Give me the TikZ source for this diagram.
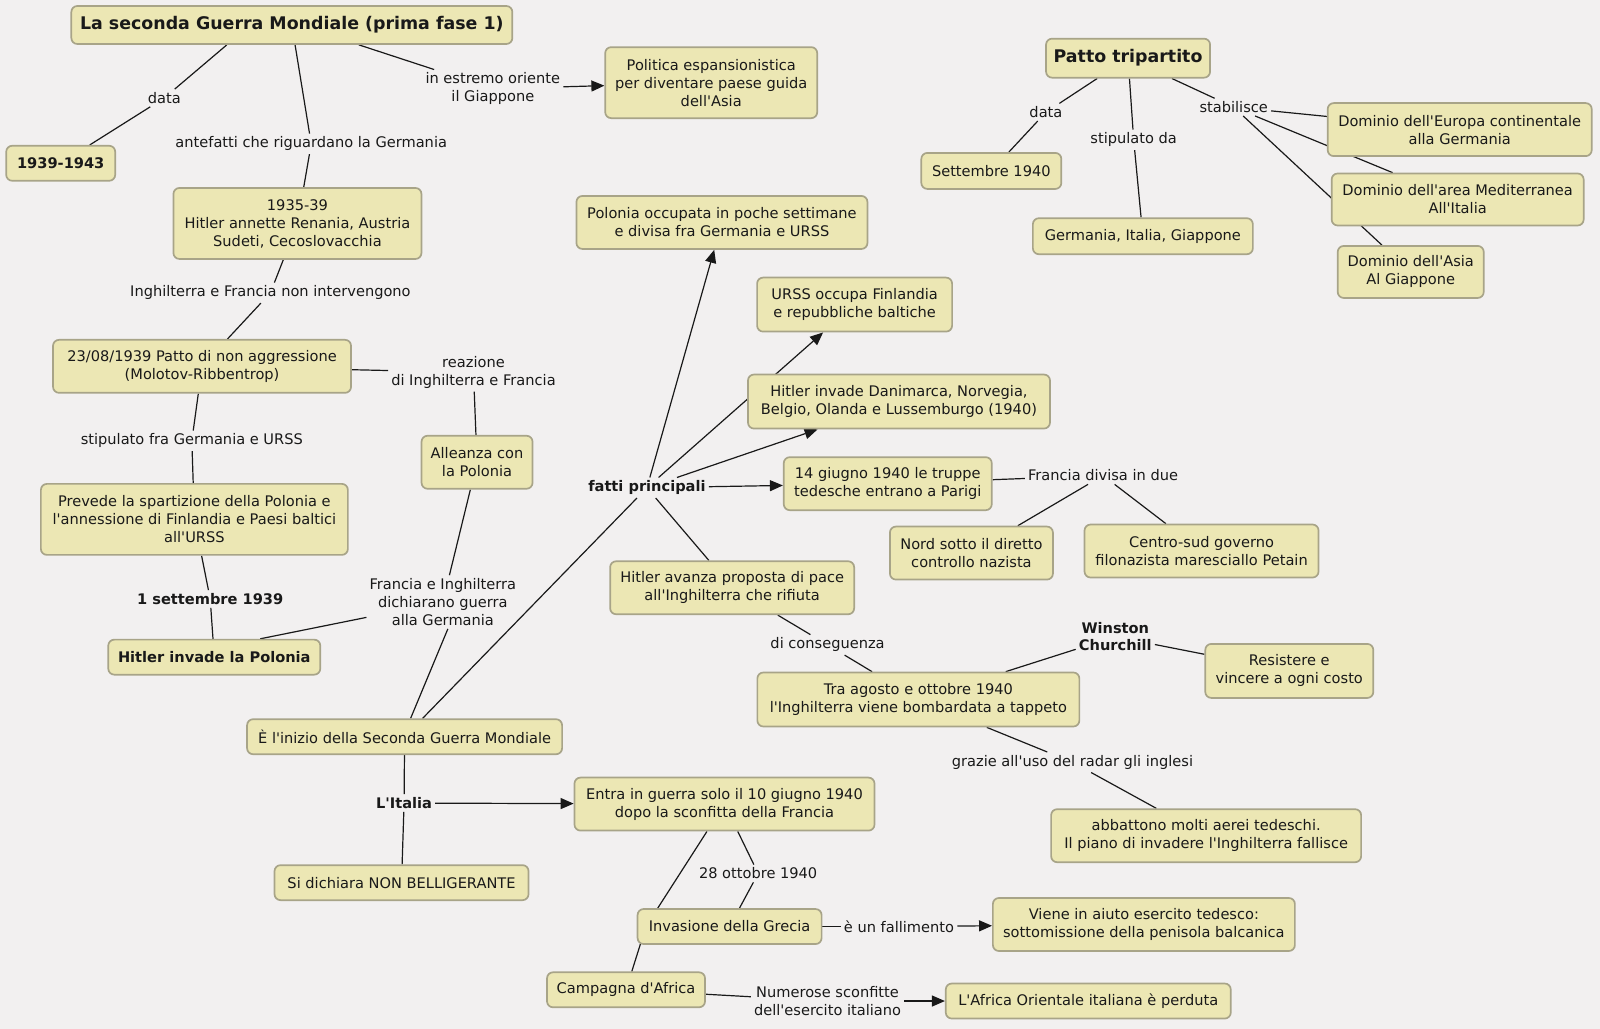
\documentclass[tikz,border=0pt]{standalone}
\usepackage{fontspec}
\setmainfont{DejaVu Sans}[Ligatures=TeXOff]
\usetikzlibrary{arrows.meta,backgrounds}
\definecolor{bgc}{RGB}{242,240,240}
\definecolor{boxfill}{RGB}{236,231,180}
\definecolor{boxline}{RGB}{168,164,136}
\definecolor{ink}{RGB}{25,25,25}
\begin{document}
\begin{tikzpicture}[x=1.0204pt, y=-1.0204pt,
  box/.style={draw=boxline, fill=boxfill, line width=1.7pt, rounded corners=6pt,
    align=center, inner sep=2pt, text=ink, font=\fontsize{14.6}{18}\selectfont},
  ttl/.style={box, font=\fontsize{17.4}{20}\selectfont\bfseries},
  sz/.style 2 args={minimum width=#1pt, minimum height=#2pt},
  lab/.style={align=center, inner sep=3pt, text=ink, font=\fontsize{14.6}{18}\selectfont},
  labb/.style={lab, font=\fontsize{14.6}{17}\selectfont\bfseries},
  con/.style={draw=ink, line width=1.2pt},
  arr/.style={con, -{Triangle[length=13pt,width=11pt]}}]
\useasboundingbox (0,0) rectangle (1568,1008);
\begin{scope}[on background layer]
  \fill[bgc] (0,0) rectangle (1568,1008);
\end{scope}

% concepts
\node[ttl,sz={441}{38}] (title) at (286,24.5) {La seconda Guerra Mondiale (prima fase 1)};
\node[box,sz={109}{35}] (yr) at (59.5,160) {\textbf{1939-1943}};
\node[box,sz={212}{71}] (polit) at (697,81) {Politica espansionistica\\per diventare paese guida\\dell'Asia};
\node[box,sz={248}{71}] (pre) at (291.5,219) {1935-39\\Hitler annette Renania, Austria\\Sudeti, Cecoslovacchia};
\node[box,sz={298}{53}] (mol) at (198,359) {23/08/1939 Patto di non aggressione\\(Molotov-Ribbentrop)};
\node[box,sz={111}{53}] (all) at (467.5,453) {Alleanza con\\la Polonia};
\node[box,sz={307}{71}] (prev) at (190.5,509) {Prevede la spartizione della Polonia e\\l'annessione di Finlandia e Paesi baltici\\all'URSS};
\node[box,sz={212}{35}] (hpol) at (210,644) {\textbf{Hitler invade la Polonia}};
\node[box,sz={315}{35}] (ini) at (396.5,722) {È l'inizio della Seconda Guerra Mondiale};
\node[box,sz={254}{35}] (nonb) at (393.5,865) {Si dichiara NON BELLIGERANTE};
\node[box,sz={300}{53}] (entra) at (710,788) {Entra in guerra solo il 10 giugno 1940\\dopo la sconfitta della Francia};
\node[box,sz={184}{35}] (grec) at (715,908) {Invasione della Grecia};
\node[box,sz={158}{35}] (afr) at (613.5,970) {Campagna d'Africa};
\node[box,sz={302}{53}] (aiuto) at (1121,906) {Viene in aiuto esercito tedesco:\\sottomissione della penisola balcanica};
\node[box,sz={285}{35}] (aoi) at (1066.5,981) {L'Africa Orientale italiana è perduta};
\node[box,sz={291}{53}] (pocc) at (707.5,218) {Polonia occupata in poche settimane\\e divisa fra Germania e URSS};
\node[box,sz={195}{54}] (urss) at (837.5,298.5) {URSS occupa Finlandia\\e repubbliche baltiche};
\node[box,sz={302}{54}] (dan) at (881,393.5) {Hitler invade Danimarca, Norvegia,\\Belgio, Olanda e Lussemburgo (1940)};
\node[box,sz={208}{53}] (par) at (870,474) {14 giugno 1940 le truppe\\tedesche entrano a Parigi};
\node[box,sz={163}{53}] (nord) at (952,542) {Nord sotto il diretto\\controllo nazista};
\node[box,sz={234}{53}] (sud) at (1177.5,540) {Centro-sud governo\\filonazista maresciallo Petain};
\node[box,sz={244}{53}] (pace) at (717.5,576) {Hitler avanza proposta di pace\\all'Inghilterra che rifiuta};
\node[box,sz={322}{54}] (bomb) at (900,685.5) {Tra agosto e ottobre 1940\\l'Inghilterra viene bombardata a tappeto};
\node[box,sz={168}{54}] (res) at (1263.5,657.5) {Resistere e\\vincere a ogni costo};
\node[box,sz={310}{53}] (abb) at (1182,819) {abbattono molti aerei tedeschi.\\Il piano di invadere l'Inghilterra fallisce};
\node[ttl,sz={164}{39}] (tri) at (1105.5,57) {Patto tripartito};
\node[box,sz={140}{36}] (sett) at (971.5,167.5) {Settembre 1940};
\node[box,sz={220}{36}] (git) at (1120,231.5) {Germania, Italia, Giappone};
\node[box,sz={264}{53}] (eur) at (1430.5,127) {Dominio dell'Europa continentale\\alla Germania};
\node[box,sz={252}{52}] (med) at (1428.5,195.5) {Dominio dell'area Mediterranea\\All'Italia};
\node[box,sz={146}{52}] (asia) at (1382.5,266.5) {Dominio dell'Asia\\Al Giappone};

% linking phrases
\node[lab] (l1) at (161,96) {data};
\node[lab] (l2) at (305,141) {antefatti che riguardano la Germania};
\node[lab] (l3) at (483,87) {in estremo oriente\\il Giappone};
\node[lab] (l4) at (265,287) {Inghilterra e Francia non intervengono};
\node[lab] (l5) at (464,365) {reazione\\di Inghilterra e Francia};
\node[lab] (l6) at (188,432) {stipulato fra Germania e URSS};
\node[labb] (l7) at (206,587) {1 settembre 1939};
\node[lab] (l8) at (434,590) {Francia e Inghilterra\\dichiarano guerra\\alla Germania};
\node[labb] (l9) at (634,478) {fatti principali};
\node[labb] (l10) at (396,787) {L'Italia};
\node[lab] (l11) at (743,856) {28 ottobre 1940};
\node[lab] (l12) at (881,908) {è un fallimento};
\node[lab] (l13) at (811,981) {Numerose sconfitte\\dell'esercito italiano};
\node[lab] (l14) at (1081,466) {Francia divisa in due};
\node[lab] (l15) at (811,632) {di conseguenza};
\node[labb] (l16) at (1093,624) {Winston\\Churchill};
\node[lab] (l17) at (1051,747) {grazie all'uso del radar gli inglesi};
\node[lab] (l18) at (1025,110) {data};
\node[lab] (l19) at (1111,137) {stipulato da};
\node[lab] (l20) at (1209,105) {stabilisce};

\coordinate (cmid) at (633,908);

\begin{scope}[on background layer]
\draw[con] ([xshift=-65pt]title.south) -- (l1);
\draw[con] (l1) -- (yr);
\draw[con] (title) -- (l2);
\draw[con] (l2) -- (pre);
\draw[con] ([xshift=67pt]title.south) -- (l3);
\draw[arr] (l3) -- (polit);
\draw[con] (pre) -- (l4);
\draw[con] (l4) -- (mol);
\draw[con] (mol) -- (l5);
\draw[con] (l5) -- (all);
\draw[con] (mol) -- (l6);
\draw[con] (l6) -- (prev);
\draw[con] (prev) -- (l7);
\draw[con] (l7) -- (hpol);
\draw[con] (all) -- (l8);
\draw[con] (l8) -- ([xshift=46pt]hpol.north);
\draw[con] ([xshift=5pt]l8.south) -- ([xshift=6pt]ini.north);
\draw[con] ([xshift=18pt]ini.north) -- (l9);
\draw[arr] (l9) -- (pocc);
\draw[arr] (l9) -- (urss);
\draw[arr] (l9) -- (dan);
\draw[arr] (l9) -- (par);
\draw[con] (l9) -- (pace);
\draw[con] (pace) -- (l15);
\draw[con] (l15) -- (bomb);
\draw[con] (par) -- (l14);
\draw[con] (l14) -- (nord);
\draw[con] (l14) -- (sud);
\draw[con] (bomb) -- (l16);
\draw[con] (l16) -- (res);
\draw[con] (bomb) -- (l17);
\draw[con] (l17) -- (abb);
\draw[con] (ini) -- (l10);
\draw[con] (l10) -- (nonb);
\draw[arr] (l10) -- (entra);
\draw[con] (entra) -- (l11);
\draw[con] (l11) -- (grec);
\draw[con] (entra) -- (cmid) -- (afr);
\draw[con] (grec) -- (l12);
\draw[arr] (l12) -- (aiuto);
\draw[con] (afr) -- (l13);
\draw[arr] (l13) -- (aoi);
\draw[con] (tri) -- (l18);
\draw[con] (l18) -- (sett);
\draw[con] (tri) -- (l19);
\draw[con] (l19) -- (git);
\draw[con] (tri) -- (l20);
\draw[con] (l20) -- (eur);
\draw[con] (l20) -- (med);
\draw[con] (l20) -- (asia);
\end{scope}
\end{tikzpicture}
\end{document}
